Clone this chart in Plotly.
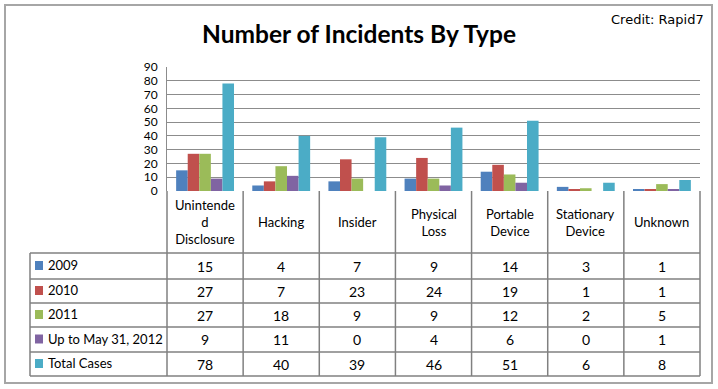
import plotly.graph_objects as go

categories = ["Unintended Disclosure", "Hacking", "Insider", "Physical Loss",
              "Portable Device", "Stationary Device", "Unknown"]
header_labels = ["Unintende<br>d<br>Disclosure", "Hacking", "Insider", "Physical<br>Loss",
                 "Portable<br>Device", "Stationary<br>Device", "Unknown"]
series_names = ["2009", "2010", "2011", "Up to May 31, 2012", "Total Cases"]
v2009 = [15, 4, 7, 9, 14, 3, 1]
v2010 = [27, 7, 23, 24, 19, 1, 1]
v2011 = [27, 18, 9, 9, 12, 2, 5]
v2012 = [9, 11, 0, 4, 6, 0, 1]
vtotal = [78, 40, 39, 46, 51, 6, 8]
series_values = [v2009, v2010, v2011, v2012, vtotal]
colors = ["#4F81BD", "#C0504D", "#9BBB59", "#8064A2", "#4BACC6"]
y_ticks = [0, 10, 20, 30, 40, 50, 60, 70, 80, 90]

W, H = 718, 389
L, R, T, B = 167, 700, 67, 191
FONT = "Lato"

def px_x(px):
    return (px - L) / (R - L)

def px_y(py):
    return (B - py) / (B - T)

fig = go.Figure()
for name, vals, col in zip(series_names, series_values, colors):
    fig.add_trace(go.Bar(x=categories, y=vals, name=name, marker_color=col,
                         marker_line_width=0))

shapes = []
annotations = []
line_col = "#808080"

# outer frame
shapes.append(dict(type="rect", xref="paper", yref="paper",
                   x0=px_x(5), x1=px_x(712), y0=px_y(5), y1=px_y(383),
                   line=dict(color="#A6A6A6", width=2), fillcolor="rgba(0,0,0,0)", layer="below"))

# table geometry
table_left = 30
header_bottom = 253
row_edges = [253, 279, 303, 327, 352, 376]
ncat = len(categories)
col_w = (R - L) / ncat
col_edges = [L + i * col_w for i in range(ncat + 1)]

for cx in col_edges:
    shapes.append(dict(type="line", xref="paper", yref="paper",
                       x0=px_x(cx), x1=px_x(cx), y0=px_y(B), y1=px_y(row_edges[-1]),
                       line=dict(color=line_col, width=1.5)))
shapes.append(dict(type="line", xref="paper", yref="paper",
                   x0=px_x(table_left), x1=px_x(table_left),
                   y0=px_y(row_edges[0]), y1=px_y(row_edges[-1]),
                   line=dict(color=line_col, width=1.5)))
for ry in row_edges:
    shapes.append(dict(type="line", xref="paper", yref="paper",
                       x0=px_x(table_left), x1=px_x(R), y0=px_y(ry), y1=px_y(ry),
                       line=dict(color=line_col, width=1.5)))

for cat, lab in zip(categories, header_labels):
    annotations.append(dict(x=cat, xref="x", yref="paper", y=px_y((B + header_bottom) / 2),
                            text=lab, showarrow=False, xanchor="center", yanchor="middle",
                            font=dict(family=FONT, size=13, color="#000000")))

for r, (name, vals, col) in enumerate(zip(series_names, series_values, colors)):
    yc = (row_edges[r] + row_edges[r + 1]) / 2
    shapes.append(dict(type="rect", xref="paper", yref="paper",
                       x0=px_x(35), x1=px_x(43), y0=px_y(yc - 5), y1=px_y(yc + 4),
                       fillcolor=col, line=dict(width=0)))
    annotations.append(dict(x=px_x(46), xref="paper", yref="paper", y=px_y(yc - 1),
                            text=name, showarrow=False, xanchor="left", yanchor="middle",
                            font=dict(family=FONT, size=13, color="#000000")))
    for cat, v in zip(categories, vals):
        annotations.append(dict(x=cat, xref="x", yref="paper", y=px_y(yc),
                                text=str(v), showarrow=False, xanchor="center", yanchor="middle",
                                font=dict(family=FONT, size=14, color="#000000")))

annotations.append(dict(x=px_x(706), xref="paper", yref="paper", y=px_y(20),
                        text="Credit: Rapid7", showarrow=False, xanchor="right", yanchor="middle",
                        font=dict(family="DejaVu Sans", size=13, color="#000000")))

fig.update_layout(
    width=W, height=H,
    margin=dict(l=L, r=W - R, t=T, b=H - B, pad=0),
    paper_bgcolor="#FFFFFF", plot_bgcolor="#FFFFFF",
    barmode="group", bargap=0.24, bargroupgap=0,
    showlegend=False,
    title=dict(text="<b>Number of Incidents By Type</b>", x=0.5, xref="container", xanchor="center",
               y=1 - 34 / H, yref="container", yanchor="middle",
               font=dict(family=FONT, size=24.5, color="#000000")),
    xaxis=dict(showticklabels=False, showgrid=False, zeroline=False, showline=False, ticks=""),
    yaxis=dict(range=[0, 90], tickvals=y_ticks, showgrid=True, gridcolor="#8C8C8C", gridwidth=1,
               zeroline=False, showline=True, linecolor="#8C8C8C", linewidth=1, ticks="",
               ticklabelstandoff=6,
               tickfont=dict(family=FONT, size=12, color="#000000")),
    shapes=shapes, annotations=annotations,
)

fig.write_html("out.html", config={"displayModeBar": False},
               post_script="document.body.style.margin='0px';document.body.style.overflow='hidden';")
